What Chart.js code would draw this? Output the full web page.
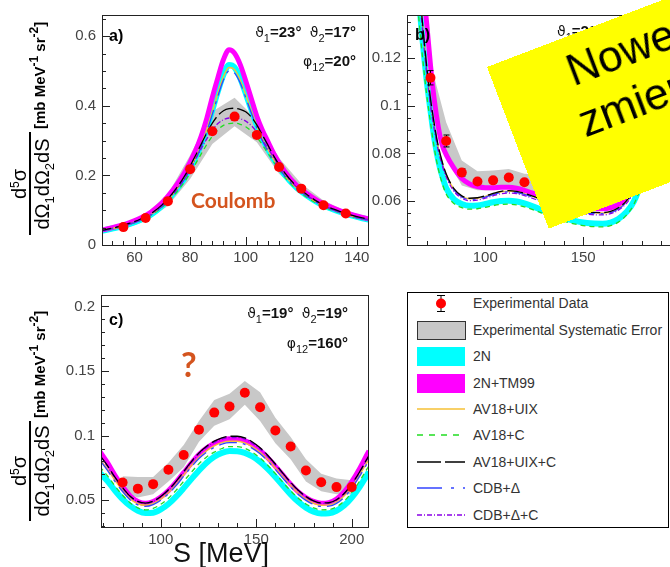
<!DOCTYPE html>
<html>
<head>
<meta charset="utf-8">
<script src="https://cdn.jsdelivr.net/npm/chart.js@4.4.1/dist/chart.umd.min.js"></script>
<style>
  html, body { margin: 0; padding: 0; width: 670px; height: 567px; overflow: hidden; background: #fff; }
  body { position: relative; font-family: "Liberation Sans", Arial, sans-serif; }
  canvas { position: absolute; }
  .abs { position: absolute; white-space: nowrap; }
  .anno { position: absolute; white-space: nowrap; font: bold 15px "Liberation Sans", Arial, sans-serif; line-height: 15px; color: #111; text-align: right; }
  .anno .g { font-weight: normal; font-family: "DejaVu Sans", sans-serif; font-size: 14px; }
  .anno .sub { position: relative; top: 5px; font-size: 11px; font-weight: normal; }
  .plabel { position: absolute; font: bold 16px "Liberation Sans", Arial, sans-serif; line-height: 16px; color: #000; }
  .ytitle { position: absolute; width: 0; height: 0; transform: rotate(-90deg); transform-origin: 0 0; color: #000; }
  .ytitle .bar { position: absolute; top: -0.75px; height: 1.5px; background: #000; }
  .ytitle .num, .ytitle .den { position: absolute; text-align: center; font: 20px "Liberation Sans", Arial, sans-serif; line-height: 20px; white-space: nowrap; }
  .ytitle .unit { position: absolute; font: bold 15px "Liberation Sans", Arial, sans-serif; line-height: 15px; white-space: nowrap; }
  .ytitle .sup { position: relative; top: -7px; font-size: 12px; }
  .ytitle .sub { position: relative; top: 5px; font-size: 13px; }
  .leg { position: absolute; font: 14px "Liberation Sans", Arial, sans-serif; line-height: 16px; color: #333; white-space: nowrap; }
  .note { position: absolute; left: 486.7px; top: 66.7px; width: 430px; height: 173px; background: #ffff00;
          transform: rotate(-20.9deg); transform-origin: 0 0; }
  .note div { position: absolute; font: 44px "Liberation Sans", Arial, sans-serif; line-height: 44px; color: #000; white-space: nowrap; }
</style>
</head>
<body>
<canvas id="pa" width="380" height="290" style="left:0;top:0"></canvas>
<canvas id="pb" width="316" height="290" style="left:370px;top:0"></canvas>
<canvas id="pc" width="380" height="287" style="left:0;top:280px"></canvas>

<!-- panel labels and kinematics -->
<div class="plabel" style="left:109px;top:28px">a)</div>
<div class="plabel" style="left:415px;top:27px">b)</div>
<div class="plabel" style="left:109px;top:312px">c)</div>

<div class="anno" style="right:314px;top:24px"><span class="g">ϑ</span><span class="sub">1</span>=23°&nbsp;&nbsp;<span class="g">ϑ</span><span class="sub">2</span>=17°</div>
<div class="anno" style="right:314px;top:53px"><span class="g">φ</span><span class="sub">12</span>=20°</div>
<div class="anno" style="left:557px;top:23px;text-align:left"><span class="g">ϑ</span><span class="sub">1</span>=28°&nbsp;&nbsp;<span class="g">ϑ</span><span class="sub">2</span>=28°</div>
<div class="anno" style="right:322px;top:305px"><span class="g">ϑ</span><span class="sub">1</span>=19°&nbsp;&nbsp;<span class="g">ϑ</span><span class="sub">2</span>=19°</div>
<div class="anno" style="right:322px;top:335px"><span class="g">φ</span><span class="sub">12</span>=160°</div>

<div class="abs" style="left:191px;top:189px;font:bold 21px Lato, sans-serif;line-height:21px;color:#d4541e">Coulomb</div>
<div class="abs" style="left:181px;top:347px;font:bold 34px Lato, sans-serif;line-height:34px;color:#d4541e">?</div>

<!-- y-axis titles -->
<div class="ytitle" style="left:30px;top:183.5px">
  <div class="bar" style="left:-51.5px;width:103px"></div>
  <div class="num" style="left:-51.5px;width:103px;top:-21px">d<span class="sup">5</span>σ</div>
  <div class="den" style="left:-51.5px;width:103px;top:2px">dΩ<span class="sub">1</span>dΩ<span class="sub">2</span>dS</div>
  <div class="unit" style="left:55px;top:1.5px">[mb MeV<span class="sup">-1</span> sr<span class="sup">-2</span>]</div>
</div>
<div class="ytitle" style="left:30px;top:471px">
  <div class="bar" style="left:-50px;width:100px"></div>
  <div class="num" style="left:-50px;width:100px;top:-21px">d<span class="sup">5</span>σ</div>
  <div class="den" style="left:-50px;width:100px;top:2px">dΩ<span class="sub">1</span>dΩ<span class="sub">2</span>dS</div>
  <div class="unit" style="left:53px;top:1.5px">[mb MeV<span class="sup">-1</span> sr<span class="sup">-2</span>]</div>
</div>

<div class="abs" style="left:120px;width:202px;text-align:center;top:540px;font:27px 'Liberation Sans', Arial, sans-serif;line-height:27px;color:#111">S [MeV]</div>

<!-- legend -->
<svg class="abs" style="left:407px;top:292px" width="262" height="236">
  <rect x="0.5" y="0.5" width="261" height="235" fill="#fff" stroke="#000" stroke-width="1"/>
  <line x1="34" y1="3" x2="34" y2="20" stroke="#000" stroke-width="1"/>
  <line x1="30" y1="3.5" x2="38" y2="3.5" stroke="#000" stroke-width="1"/>
  <line x1="30" y1="19.5" x2="38" y2="19.5" stroke="#000" stroke-width="1"/>
  <circle cx="34" cy="11.5" r="5" fill="#ff0000"/>
  <rect x="10.5" y="29.5" width="48" height="18" fill="#c8c8c8" stroke="#333" stroke-width="1"/>
  <rect x="10" y="55" width="48" height="19" fill="#00ffff"/>
  <rect x="10" y="82" width="48" height="19" fill="#ff00ff"/>
  <line x1="10" y1="117" x2="58" y2="117" stroke="#f6c035" stroke-width="1.4"/>
  <line x1="10" y1="143" x2="56" y2="143" stroke="#22dd22" stroke-width="1.3" stroke-dasharray="6 6"/>
  <line x1="10" y1="170" x2="58" y2="170" stroke="#000" stroke-width="1.3" stroke-dasharray="24 4"/>
  <line x1="10" y1="196" x2="58" y2="196" stroke="#3344ff" stroke-width="1.3" stroke-dasharray="25 9 3 9"/>
  <line x1="10" y1="223" x2="58" y2="223" stroke="#8a00e6" stroke-width="1.3" stroke-dasharray="5 2 1 2"/>
</svg>
<div class="leg" style="left:473px;top:295px">Experimental Data</div>
<div class="leg" style="left:473px;top:322px">Experimental Systematic Error</div>
<div class="leg" style="left:473px;top:348px">2N</div>
<div class="leg" style="left:473px;top:375px">2N+TM99</div>
<div class="leg" style="left:473px;top:401px">AV18+UIX</div>
<div class="leg" style="left:473px;top:427px">AV18+C</div>
<div class="leg" style="left:473px;top:454px">AV18+UIX+C</div>
<div class="leg" style="left:473px;top:480px">CDB+Δ</div>
<div class="leg" style="left:473px;top:507px">CDB+Δ+C</div>

<div class="note">
  <div style="left:74px;top:12px">Nowe</div>
  <div style="left:67px;top:64px">zmierzone</div>
</div>

<script>
// ---------- panel a: theta1=23, theta2=17, phi12=20 ----------
const aS = [46, 50, 54, 58, 62, 66, 70, 74, 78, 82, 84, 86, 88, 90, 92, 94, 96, 98, 100, 102, 104, 106, 108, 110, 114, 118, 122, 126, 130, 134, 138, 142, 146];
const a2N       = [0.038, 0.044, 0.051, 0.060, 0.072, 0.088, 0.113, 0.149, 0.193, 0.253, 0.290, 0.335, 0.388, 0.442, 0.490, 0.517, 0.510, 0.480, 0.436, 0.390, 0.345, 0.307, 0.276, 0.248, 0.202, 0.167, 0.142, 0.122, 0.107, 0.095, 0.085, 0.077, 0.070];
const a2NTM99   = [0.040, 0.046, 0.054, 0.064, 0.077, 0.095, 0.122, 0.160, 0.208, 0.272, 0.313, 0.364, 0.425, 0.481, 0.533, 0.561, 0.551, 0.519, 0.472, 0.421, 0.370, 0.330, 0.297, 0.264, 0.212, 0.174, 0.148, 0.127, 0.111, 0.098, 0.088, 0.079, 0.072];
const aAV18UIX  = [0.038, 0.044, 0.051, 0.060, 0.072, 0.088, 0.113, 0.148, 0.192, 0.251, 0.288, 0.332, 0.384, 0.437, 0.484, 0.510, 0.504, 0.475, 0.432, 0.386, 0.342, 0.305, 0.274, 0.246, 0.201, 0.166, 0.141, 0.121, 0.106, 0.094, 0.084, 0.076, 0.069];
const aAV18C    = [0.037, 0.043, 0.050, 0.059, 0.070, 0.086, 0.109, 0.141, 0.182, 0.234, 0.262, 0.289, 0.313, 0.332, 0.344, 0.349, 0.350, 0.347, 0.340, 0.327, 0.310, 0.288, 0.264, 0.240, 0.196, 0.162, 0.137, 0.118, 0.103, 0.092, 0.082, 0.075, 0.068];
const aAV18UIXC = [0.039, 0.045, 0.052, 0.062, 0.074, 0.091, 0.116, 0.152, 0.198, 0.258, 0.290, 0.322, 0.350, 0.372, 0.386, 0.392, 0.393, 0.390, 0.383, 0.368, 0.345, 0.316, 0.287, 0.257, 0.208, 0.171, 0.145, 0.124, 0.108, 0.096, 0.086, 0.078, 0.071];
const aCDBD     = [0.037, 0.043, 0.050, 0.059, 0.071, 0.087, 0.111, 0.146, 0.189, 0.247, 0.283, 0.326, 0.376, 0.428, 0.474, 0.500, 0.494, 0.466, 0.424, 0.380, 0.337, 0.300, 0.270, 0.243, 0.199, 0.165, 0.140, 0.120, 0.105, 0.093, 0.083, 0.075, 0.068];
const aCDBDC    = [0.039, 0.045, 0.052, 0.061, 0.073, 0.090, 0.114, 0.148, 0.192, 0.248, 0.277, 0.305, 0.330, 0.349, 0.360, 0.365, 0.366, 0.363, 0.356, 0.343, 0.325, 0.302, 0.278, 0.252, 0.205, 0.169, 0.143, 0.123, 0.107, 0.095, 0.085, 0.077, 0.070];
const aExpS   = [56, 64, 72, 80, 88, 96, 104, 112, 120, 128, 136];
const aExp    = [0.0514, 0.0776, 0.126, 0.218, 0.327, 0.369, 0.316, 0.224, 0.162, 0.114, 0.0906];
const aExpErr = [0.004, 0.004, 0.004, 0.004, 0.004, 0.004, 0.004, 0.004, 0.004, 0.004, 0.004];
const aSysHi  = [0.058, 0.090, 0.146, 0.258, 0.384, 0.423, 0.360, 0.250, 0.176, 0.128, 0.098];
const aSysLo  = [0.046, 0.068, 0.112, 0.190, 0.290, 0.341, 0.295, 0.205, 0.146, 0.104, 0.083];
const aXTicks = ['60', '80', '100', '120', '140'];
const aYTicks = ['0', '0.2', '0.4', '0.6'];

// ---------- panel b ----------
const bS = [62, 64, 66, 68, 70, 72, 74, 76, 78, 80, 84, 88, 92, 96, 100, 104, 108, 112, 116, 120, 128, 136, 144, 152, 160, 164, 168, 172, 176, 180, 184];
const b2N       = [0.185, 0.165, 0.145, 0.127, 0.111, 0.098, 0.086, 0.077, 0.0705, 0.0655, 0.0607, 0.0588, 0.0580, 0.0582, 0.0588, 0.0595, 0.0600, 0.0601, 0.0598, 0.0590, 0.0566, 0.0540, 0.0520, 0.0508, 0.0505, 0.0510, 0.0525, 0.0553, 0.0600, 0.0690, 0.0830];
const b2NTM99   = [0.210, 0.185, 0.165, 0.150, 0.135, 0.117, 0.102, 0.091, 0.0835, 0.0795, 0.0738, 0.0695, 0.0672, 0.0661, 0.0656, 0.0656, 0.0658, 0.0658, 0.0654, 0.0645, 0.0622, 0.0598, 0.0580, 0.0570, 0.0568, 0.0572, 0.0585, 0.0610, 0.0660, 0.0750, 0.0900];
const bAV18UIX  = [0.189, 0.169, 0.151, 0.133, 0.116, 0.102, 0.0912, 0.0823, 0.0760, 0.0711, 0.0649, 0.0620, 0.0610, 0.0612, 0.0620, 0.0630, 0.0639, 0.0642, 0.0639, 0.0631, 0.0608, 0.0584, 0.0565, 0.0553, 0.0550, 0.0555, 0.0570, 0.0598, 0.0648, 0.0738, 0.0878];
const bAV18C    = [0.175, 0.156, 0.137, 0.120, 0.105, 0.093, 0.082, 0.0735, 0.0675, 0.0630, 0.0590, 0.0573, 0.0566, 0.0568, 0.0574, 0.0581, 0.0586, 0.0587, 0.0584, 0.0576, 0.0553, 0.0527, 0.0507, 0.0495, 0.0492, 0.0497, 0.0512, 0.0540, 0.0588, 0.0675, 0.0815];
const bAV18UIXC = [0.190, 0.170, 0.152, 0.134, 0.117, 0.103, 0.092, 0.083, 0.0765, 0.0715, 0.0652, 0.0622, 0.0612, 0.0614, 0.0622, 0.0632, 0.0641, 0.0644, 0.0641, 0.0633, 0.0610, 0.0586, 0.0567, 0.0555, 0.0552, 0.0557, 0.0572, 0.0600, 0.0650, 0.0740, 0.0880];
const bCDBD     = [0.188, 0.168, 0.150, 0.132, 0.115, 0.101, 0.0905, 0.0818, 0.0755, 0.0707, 0.0646, 0.0617, 0.0607, 0.0609, 0.0617, 0.0627, 0.0636, 0.0639, 0.0636, 0.0628, 0.0605, 0.0581, 0.0562, 0.0550, 0.0547, 0.0552, 0.0567, 0.0595, 0.0645, 0.0735, 0.0875];
const bCDBDC    = [0.187, 0.167, 0.149, 0.131, 0.114, 0.100, 0.0898, 0.0812, 0.0750, 0.0702, 0.0641, 0.0612, 0.0602, 0.0604, 0.0612, 0.0622, 0.0631, 0.0634, 0.0631, 0.0623, 0.0600, 0.0576, 0.0557, 0.0545, 0.0542, 0.0547, 0.0562, 0.0590, 0.0640, 0.0730, 0.0870];
const bExpS   = [72, 80, 88, 96, 104, 112, 120, 128, 136, 144, 152, 160, 168];
const bExp    = [0.1117, 0.0852, 0.0720, 0.0682, 0.0687, 0.0699, 0.0679, 0.0668, 0.0650, 0.0628, 0.0615, 0.0605, 0.0625];
const bExpErr = [0.0030, 0.0025, 0.0015, 0.0012, 0.0012, 0.0012, 0.0012, 0.0012, 0.0012, 0.0012, 0.0012, 0.0012, 0.0012];
const bSysHi  = [0.118, 0.093, 0.077, 0.0725, 0.0728, 0.0735, 0.0715, 0.071, 0.069, 0.067, 0.066, 0.065, 0.067];
const bSysLo  = [0.104, 0.078, 0.0665, 0.0645, 0.0645, 0.0655, 0.064, 0.062, 0.060, 0.058, 0.057, 0.056, 0.058];
const bXTicks = ['100', '150'];
const bYTicks = ['0.06', '0.08', '0.1', '0.12'];

// ---------- panel c: theta1=19, theta2=19, phi12=160 ----------
const cS = [68, 72, 76, 80, 84, 88, 92, 96, 100, 104, 108, 112, 116, 120, 124, 128, 132, 136, 140, 144, 148, 152, 156, 160, 164, 168, 172, 176, 180, 184, 188, 192, 196, 200, 204, 208, 209];
const c2N       = [0.0712, 0.0650, 0.0575, 0.0508, 0.0455, 0.0418, 0.0400, 0.0403, 0.0428, 0.0470, 0.0527, 0.0593, 0.0663, 0.0730, 0.0790, 0.0836, 0.0866, 0.0880, 0.0879, 0.0866, 0.0838, 0.0797, 0.0743, 0.0680, 0.0612, 0.0545, 0.0487, 0.0441, 0.0410, 0.0396, 0.0398, 0.0418, 0.0458, 0.0520, 0.0600, 0.0695, 0.0720];
const c2NTM99   = [0.0880, 0.0792, 0.0693, 0.0606, 0.0532, 0.0490, 0.0475, 0.0490, 0.0525, 0.0574, 0.0639, 0.0713, 0.0787, 0.0854, 0.0903, 0.0941, 0.0965, 0.0975, 0.0975, 0.0961, 0.0928, 0.0886, 0.0829, 0.0762, 0.0693, 0.0624, 0.0564, 0.0520, 0.0490, 0.0475, 0.0480, 0.0508, 0.0564, 0.0644, 0.0742, 0.0854, 0.0882];
const cAV18UIX  = [0.0820, 0.0742, 0.0653, 0.0575, 0.0510, 0.0472, 0.0460, 0.0474, 0.0508, 0.0558, 0.0622, 0.0695, 0.0768, 0.0833, 0.0883, 0.0920, 0.0945, 0.0956, 0.0956, 0.0943, 0.0912, 0.0870, 0.0814, 0.0749, 0.0680, 0.0613, 0.0554, 0.0508, 0.0476, 0.0461, 0.0463, 0.0485, 0.0532, 0.0603, 0.0692, 0.0792, 0.0816];
const cAV18C    = [0.0760, 0.0690, 0.0610, 0.0538, 0.0478, 0.0440, 0.0425, 0.0436, 0.0468, 0.0515, 0.0576, 0.0646, 0.0716, 0.0782, 0.0834, 0.0872, 0.0900, 0.0915, 0.0915, 0.0902, 0.0870, 0.0826, 0.0770, 0.0705, 0.0637, 0.0572, 0.0515, 0.0470, 0.0440, 0.0425, 0.0427, 0.0448, 0.0492, 0.0560, 0.0645, 0.0742, 0.0765];
const cAV18UIXC = [0.0850, 0.0770, 0.0678, 0.0598, 0.0530, 0.0490, 0.0477, 0.0492, 0.0528, 0.0580, 0.0646, 0.0722, 0.0798, 0.0866, 0.0918, 0.0957, 0.0983, 0.0995, 0.0995, 0.0982, 0.0950, 0.0906, 0.0848, 0.0780, 0.0708, 0.0638, 0.0576, 0.0528, 0.0494, 0.0478, 0.0480, 0.0503, 0.0552, 0.0625, 0.0716, 0.0820, 0.0845];
const cCDBD     = [0.0810, 0.0733, 0.0645, 0.0567, 0.0502, 0.0463, 0.0451, 0.0465, 0.0499, 0.0549, 0.0612, 0.0685, 0.0757, 0.0822, 0.0872, 0.0909, 0.0934, 0.0945, 0.0945, 0.0932, 0.0901, 0.0859, 0.0803, 0.0738, 0.0669, 0.0603, 0.0544, 0.0498, 0.0466, 0.0451, 0.0453, 0.0475, 0.0522, 0.0593, 0.0682, 0.0782, 0.0806];
const cCDBDC    = [0.0842, 0.0763, 0.0672, 0.0593, 0.0526, 0.0487, 0.0474, 0.0489, 0.0524, 0.0575, 0.0640, 0.0715, 0.0790, 0.0857, 0.0909, 0.0947, 0.0973, 0.0985, 0.0985, 0.0972, 0.0940, 0.0897, 0.0840, 0.0773, 0.0702, 0.0633, 0.0572, 0.0525, 0.0491, 0.0475, 0.0477, 0.0500, 0.0548, 0.0620, 0.0710, 0.0812, 0.0837];
const cExpS   = [80, 88, 96, 104, 112, 120, 128, 136, 144, 152, 160, 168, 176, 184, 192, 200];
const cExp    = [0.0636, 0.0589, 0.0624, 0.0735, 0.0849, 0.1045, 0.1178, 0.1225, 0.1332, 0.1220, 0.1040, 0.0916, 0.0730, 0.0639, 0.0601, 0.0601];
const cExpErr = [0.002, 0.002, 0.002, 0.002, 0.002, 0.002, 0.002, 0.002, 0.002, 0.002, 0.002, 0.002, 0.002, 0.002, 0.002, 0.002];
const cSysHi  = [0.0686, 0.0680, 0.0680, 0.0790, 0.0928, 0.1114, 0.1275, 0.1324, 0.1423, 0.1336, 0.1139, 0.0990, 0.0817, 0.0705, 0.0668, 0.0655];
const cSysLo  = [0.0557, 0.0520, 0.0545, 0.0644, 0.0755, 0.0953, 0.1077, 0.1126, 0.1238, 0.1114, 0.0941, 0.0817, 0.0644, 0.0569, 0.0545, 0.0545];
const cXTicks = ['100', '150', '200'];
const cYTicks = ['0.05', '0.1', '0.15', '0.2'];

// ---------- drawing ----------
const LINE = {
  n2:    { color: '#00ffff', width: 6,   dash: [],           order: 9 },
  tm99:  { color: '#ff00ff', width: 5,   dash: [],           order: 8 },
  av18c: { color: '#22dd22', width: 1.3, dash: [5, 4],       order: 7 },
  uix:   { color: '#f6c035', width: 1.4, dash: [],           order: 6 },
  cdbd:  { color: '#3344ff', width: 1.3, dash: [18, 6, 3, 6], order: 5 },
  cdbdc: { color: '#8a00e6', width: 1.3, dash: [5, 2, 1, 2], order: 4 },
  uixc:  { color: '#000000', width: 1.3, dash: [16, 4],      order: 3 }
};

const pts = (xs, ys) => xs.map((x, i) => ({ x, y: ys[i] }));

function curve(key, xs, ys) {
  const s = LINE[key];
  return { data: pts(xs, ys), borderColor: s.color, borderWidth: s.width, borderDash: s.dash,
           pointRadius: 0, fill: false, cubicInterpolationMode: 'monotone', clip: 0, order: s.order };
}

// frame with ROOT-like inward ticks
const frameTicks = {
  id: 'frameTicks',
  afterDatasetsDraw(chart, args, o) {
    const { ctx, chartArea: a, scales: { x, y } } = chart;
    ctx.save();
    ctx.strokeStyle = '#222';
    ctx.lineWidth = 1;
    ctx.strokeRect(Math.round(a.left) + 0.5, Math.round(a.top) + 0.5, Math.round(a.right - a.left), Math.round(a.bottom - a.top));
    ctx.beginPath();
    const xt = (v, len) => { const p = Math.round(x.getPixelForValue(v)) + 0.5; ctx.moveTo(p, a.bottom); ctx.lineTo(p, a.bottom - len); };
    const yt = (v, len) => { const p = Math.round(y.getPixelForValue(v)) + 0.5; ctx.moveTo(a.left, p); ctx.lineTo(a.left + len, p); };
    for (let k = Math.ceil(x.min / o.xMinor - 1e-9); k * o.xMinor <= x.max + 1e-9; k++) xt(k * o.xMinor, 4);
    for (let k = Math.ceil(y.min / o.yMinor - 1e-9); k * o.yMinor <= y.max + 1e-9; k++) yt(k * o.yMinor, 4);
    o.xMajor.forEach(v => xt(v, 8));
    o.yMajor.forEach(v => yt(v, 8));
    ctx.stroke();
    ctx.restore();
  }
};

// vertical error bars under the data markers
const errorBars = {
  id: 'errorBars',
  beforeDatasetDraw(chart, args) {
    const ds = chart.data.datasets[args.index];
    if (!ds.errors) return;
    const { ctx, scales: { x, y } } = chart;
    ctx.save();
    ctx.strokeStyle = '#000';
    ctx.lineWidth = 1;
    ctx.beginPath();
    ds.data.forEach((p, i) => {
      const px = Math.round(x.getPixelForValue(p.x)) + 0.5;
      const y1 = y.getPixelForValue(p.y + ds.errors[i]);
      const y2 = y.getPixelForValue(p.y - ds.errors[i]);
      ctx.moveTo(px, y1); ctx.lineTo(px, y2);
      ctx.moveTo(px - 3, y1); ctx.lineTo(px + 3, y1);
      ctx.moveTo(px - 3, y2); ctx.lineTo(px + 3, y2);
    });
    ctx.stroke();
    ctx.restore();
  }
};

function panel(id, p) {
  const num = a => a.map(parseFloat);
  const datasets = [
    { data: pts(p.expS, p.sysHi), borderWidth: 0, pointRadius: 0, fill: '+1', backgroundColor: '#c8c8c8', tension: 0, clip: 0, order: 10 },
    { data: pts(p.expS, p.sysLo), borderWidth: 0, pointRadius: 0, fill: false, tension: 0, clip: 0, order: 10 },
    curve('n2', p.s, p.c2N),
    curve('tm99', p.s, p.c2NTM99),
    curve('av18c', p.s, p.cAV18C),
    curve('uix', p.s, p.cAV18UIX),
    curve('cdbd', p.s, p.cCDBD),
    curve('cdbdc', p.s, p.cCDBDC),
    curve('uixc', p.s, p.cAV18UIXC),
    { data: pts(p.expS, p.exp), errors: p.err, showLine: false, pointRadius: 5, pointBackgroundColor: '#ff0000',
      pointBorderWidth: 0, pointBorderColor: '#ff0000', order: 0 }
  ];
  const tickFont = { family: "'Liberation Sans', Arial, sans-serif", size: 15 };
  return new Chart(document.getElementById(id), {
    type: 'line',
    data: { datasets },
    options: {
      responsive: false, animation: false, events: [],
      layout: { padding: p.pad, autoPadding: false },
      plugins: { legend: { display: false }, tooltip: { enabled: false }, frameTicks: p.ticks },
      scales: {
        x: {
          type: 'linear', min: p.xr[0], max: p.xr[1],
          grid: { display: false, drawTicks: false }, border: { display: false },
          afterBuildTicks: s => { s.ticks = num(p.xTicks).map(v => ({ value: v })); },
          afterFit: s => { s.height = p.xH; },
          ticks: { autoSkip: false, maxRotation: 0, padding: 4, color: '#444', font: tickFont,
                   callback: (v, i) => p.xTicks[i] }
        },
        y: {
          type: 'linear', min: p.yr[0], max: p.yr[1],
          grid: { display: false, drawTicks: false }, border: { display: false },
          afterBuildTicks: s => { s.ticks = num(p.yTicks).map(v => ({ value: v })); },
          afterFit: s => { s.width = p.yW; },
          ticks: { autoSkip: false, padding: 6, color: '#444', font: tickFont,
                   callback: (v, i) => p.yTicks[i] }
        }
      }
    },
    plugins: [frameTicks, errorBars]
  });
}

panel('pa', {
  s: aS, c2N: a2N, c2NTM99: a2NTM99, cAV18UIX: aAV18UIX, cAV18C: aAV18C, cAV18UIXC: aAV18UIXC, cCDBD: aCDBD, cCDBDC: aCDBDC,
  expS: aExpS, exp: aExp, err: aExpErr, sysHi: aSysHi, sysLo: aSysLo, xTicks: aXTicks, yTicks: aYTicks,
  xr: [48.3, 144], yr: [0, 0.661], pad: { left: 0, top: 9, right: 12, bottom: 10 }, yW: 102, xH: 35,
  ticks: { xMinor: 4, yMinor: 0.05, xMajor: [60, 80, 100, 120, 140], yMajor: [0, 0.2, 0.4, 0.6] }
});
panel('pb', {
  s: bS, c2N: b2N, c2NTM99: b2NTM99, cAV18UIX: bAV18UIX, cAV18C: bAV18C, cAV18UIXC: bAV18UIXC, cCDBD: bCDBD, cCDBDC: bCDBDC,
  expS: bExpS, exp: bExp, err: bExpErr, sysHi: bSysHi, sysLo: bSysLo, xTicks: bXTicks, yTicks: bYTicks,
  xr: [60, 200], yr: [0.0416, 0.138], pad: { left: 0, top: 9, right: 5, bottom: 10 }, yW: 37, xH: 35,
  ticks: { xMinor: 10, yMinor: 0.005, xMajor: [100, 150, 200], yMajor: [0.06, 0.08, 0.1, 0.12] }
});
panel('pc', {
  s: cS, c2N: c2N, c2NTM99: c2NTM99, cAV18UIX: cAV18UIX, cAV18C: cAV18C, cAV18UIXC: cAV18UIXC, cCDBD: cCDBD, cCDBDC: cCDBDC,
  expS: cExpS, exp: cExp, err: cExpErr, sysHi: cSysHi, sysLo: cSysLo, xTicks: cXTicks, yTicks: cYTicks,
  xr: [68.7, 208.5], yr: [0.0292, 0.2089], pad: { left: 0, top: 5, right: 12, bottom: 5 }, yW: 101, xH: 35,
  ticks: { xMinor: 10, yMinor: 0.01, xMajor: [100, 150, 200], yMajor: [0.05, 0.1, 0.15, 0.2] }
});
</script>
</body>
</html>
